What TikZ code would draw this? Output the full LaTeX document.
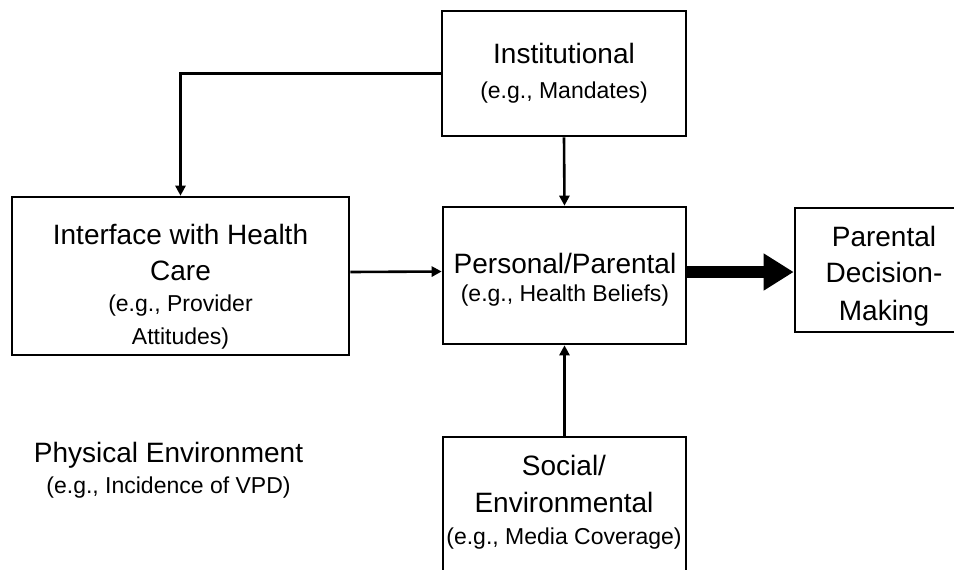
\documentclass[tikz,border=0pt]{standalone}
\usepackage{fontspec}
\setmainfont{Liberation Sans}
\usetikzlibrary{arrows.meta}
\newcommand{\subtxt}{\fontsize{11.5}{14}\selectfont}
\tikzset{
  box/.style={draw, line width=1.3pt, inner sep=0pt},
  txt/.style={align=center, inner sep=0pt, font=\fontsize{14}{18}\selectfont},
  arr/.style={line width=1.3pt, -{Triangle[length=5pt,width=5pt]}},
  bigarr/.style={line width=6pt, -{Triangle[length=15pt,width=17.5pt]}}
}
\begin{document}
\begin{tikzpicture}[x=0.5pt,y=-0.5pt]
\useasboundingbox (0,0) rectangle (954,569);
\clip (0,0) rectangle (954,569);
% boxes
\node[box, minimum width=122pt, minimum height=62.5pt] (inst) at (564,73.5){};
\node[box, minimum width=168.5pt, minimum height=79pt] (iface) at (180.5,276){};
\node[box, minimum width=121.5pt, minimum height=68.5pt] (pers) at (564.5,275.5){};
\node[box, minimum width=89pt, minimum height=62pt] (dec) at (884,270){};
\node[box, minimum width=121.5pt, minimum height=73pt] (soc) at (564.5,510){};
% texts
\node[txt] (inst-t) at (564,73.5){Institutional\\[-0.5pt]\subtxt (e.g., Mandates)};
\node[txt] (iface-t) at (180.5,286.5){Interface with Health\\Care\\[-2.5pt]\subtxt (e.g., Provider\\[-1.5pt]\subtxt Attitudes)};
\node[txt] (pers-t) at (565,279.5){Personal/Parental\\[-4pt]\subtxt (e.g., Health Beliefs)};
\node[txt] (dec-t) at (884,276){Parental\\Decision-\\[1pt]Making};
\node[txt] (soc-t) at (564,502){Social/\\[0.5pt]Environmental\\[-2pt]\subtxt (e.g., Media Coverage)};
\node[txt] (phys-t) at (168.5,470.5){Physical Environment\\[-2.5pt]\subtxt (e.g., Incidence of VPD)};
% connectors
\draw[arr] (inst.west) -| (iface.north);
\draw[arr] (inst.south) -- (pers.north);
\draw[arr] ([yshift=2pt]iface.east) -- ([yshift=2pt]pers.west);
\draw[arr] (soc.north) -- (pers.south);
\draw[bigarr] ([yshift=1.75pt]pers.east) -- ([yshift=1.75pt]pers.east -| dec.west);
\end{tikzpicture}
\end{document}
